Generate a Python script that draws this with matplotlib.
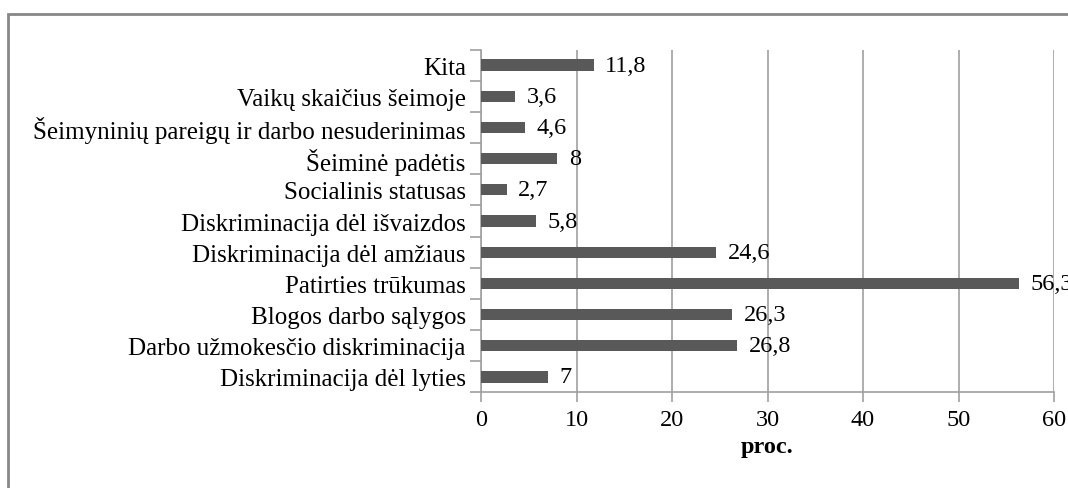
import matplotlib
matplotlib.use('Agg')
import matplotlib.pyplot as plt
from matplotlib.patches import Rectangle

# categories top -> bottom as in the chart
categories = ['Kita', 'Vaikų skaičius šeimoje', 'Šeimyninių pareigų ir darbo nesuderinimas',
              'Šeiminė padėtis', 'Socialinis statusas', 'Diskriminacija dėl išvaizdos',
              'Diskriminacija dėl amžiaus', 'Patirties trūkumas', 'Blogos darbo sąlygos',
              'Darbo užmokesčio diskriminacija', 'Diskriminacija dėl lyties']
values = [11.8, 3.6, 4.6, 8, 2.7, 5.8, 24.6, 56.3, 26.3, 26.8, 7]
value_labels = ['11,8', '3,6', '4,6', '8', '2,7', '5,8', '24,6', '56,3', '26,3', '26,8', '7']
xticks = [0, 10, 20, 30, 40, 50, 60]

plt.rcParams['font.family'] = ['Liberation Serif', 'DejaVu Serif']

fig = plt.figure(figsize=(10.68, 4.89), dpi=100)
ax = fig.add_axes([0.4504, 0.1953, 0.5365, 0.7014])

ypos = list(range(len(categories)))[::-1]
ax.barh(ypos, values, height=0.36, color='#595959', zorder=3)
for y, v, t in zip(ypos, values, value_labels):
    ax.text(v + 1.2, y, t, va='center', ha='left', fontsize=17.5, zorder=4)

ax.set_xlim(0, 60)
ax.set_ylim(-0.5, len(categories) - 0.5)
ax.set_xticks(xticks)
ax.set_xticklabels([str(x) for x in xticks], fontsize=17.5)
ax.set_yticks(ypos)
ax.set_yticklabels(categories, fontsize=18)
# category ticks sit between bars
ax.set_yticks([i - 0.5 for i in range(len(categories) + 1)], minor=True)
ax.tick_params(axis='y', which='major', length=0, pad=11)
ax.tick_params(axis='y', which='minor', length=8, color='#a0a0a0', width=1.2)
ax.tick_params(axis='x', length=7, color='#a0a0a0', width=1.2, pad=5)
ax.xaxis.grid(True, color='#a0a0a0', linewidth=1.2, zorder=0)
for s in ['top', 'right']:
    ax.spines[s].set_visible(False)
for s in ['left', 'bottom']:
    ax.spines[s].set_color('#a0a0a0')
    ax.spines[s].set_linewidth(1.2)
ax.set_xlabel('proc.', fontsize=17.5, fontweight='bold', labelpad=4)

# outer frame (cut off at right and bottom)
fig.add_artist(Rectangle((7.5 / 1068, -0.1), 1.2, 1 - 15 / 489 + 0.1,
                         transform=fig.transFigure, fill=False,
                         edgecolor='#878787', linewidth=2))

fig.savefig('out.png', dpi=100)
